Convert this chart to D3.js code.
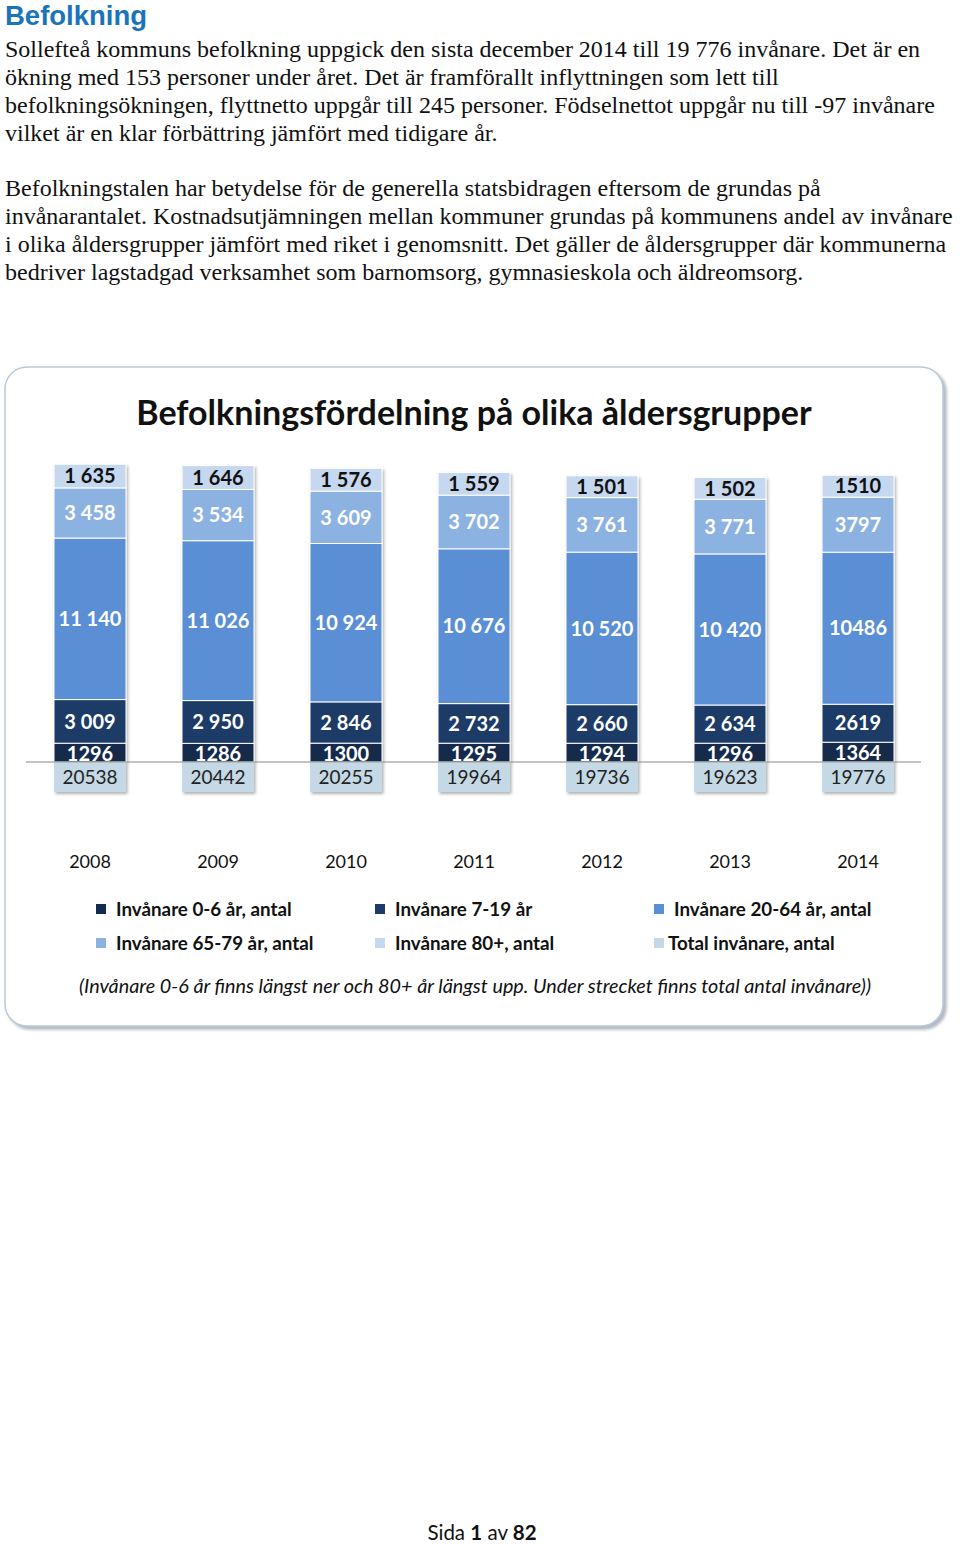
<!DOCTYPE html>
<html>
<head>
<meta charset="utf-8">
<script src="https://cdn.jsdelivr.net/npm/d3@7"></script>
<style>
  html, body { margin: 0; padding: 0; background: #ffffff; }
  svg { display: block; }
</style>
</head>
<body>
<script>
// ---------- DATA ----------
const years = ["2008", "2009", "2010", "2011", "2012", "2013", "2014"];
const age0_6   = [1296, 1286, 1300, 1295, 1294, 1296, 1364];
const age7_19  = [3009, 2950, 2846, 2732, 2660, 2634, 2619];
const age20_64 = [11140, 11026, 10924, 10676, 10520, 10420, 10486];
const age65_79 = [3458, 3534, 3609, 3702, 3761, 3771, 3797];
const age80    = [1635, 1646, 1576, 1559, 1501, 1502, 1510];
const totals   = [20538, 20442, 20255, 19964, 19736, 19623, 19776];
// whether the label for a year uses a space as thousands separator
const spacedYears = [true, true, true, true, true, true, false];

const seriesNames = [
  "Invånare 0-6 år, antal",
  "Invånare 7-19 år",
  "Invånare 20-64 år, antal",
  "Invånare 65-79 år, antal",
  "Invånare 80+, antal",
  "Total invånare, antal"
];

const headingText = "Befolkning";
const para1 = [
  "Sollefteå kommuns befolkning uppgick den sista december 2014 till 19 776 invånare. Det är en",
  "ökning med 153 personer under året. Det är framförallt inflyttningen som lett till",
  "befolkningsökningen, flyttnetto uppgår till 245 personer. Födselnettot uppgår nu till -97 invånare",
  "vilket är en klar förbättring jämfört med tidigare år."
];
const para2 = [
  "Befolkningstalen har betydelse för de generella statsbidragen eftersom de grundas på",
  "invånarantalet. Kostnadsutjämningen mellan kommuner grundas på kommunens andel av invånare",
  "i olika åldersgrupper jämfört med riket i genomsnitt. Det gäller de åldersgrupper där kommunerna",
  "bedriver lagstadgad verksamhet som barnomsorg, gymnasieskola och äldreomsorg."
];
const chartTitle = "Befolkningsfördelning på olika åldersgrupper";
const footnote = "(Invånare 0-6 år finns längst ner och 80+ år längst upp. Under strecket finns total antal invånare))";

// ---------- STYLE ----------
const colors = ["#132b4c", "#1c3b66", "#5a8fd5", "#8cb2e2", "#c6d8f0", "#c4d9e5"];
const labelColors = ["#ffffff", "#ffffff", "#ffffff", "#ffffff", "#111111", "#222222"];
const sansFont = "Lato, 'Open Sans', sans-serif";

const W = 960, H = 1544;
const svg = d3.select("body").append("svg").attr("width", W).attr("height", H);

const defs = svg.append("defs");
const f1 = defs.append("filter").attr("id", "boxShadow").attr("x", "-5%").attr("y", "-5%").attr("width", "110%").attr("height", "110%");
f1.append("feDropShadow").attr("dx", 3).attr("dy", 3).attr("stdDeviation", 1.5).attr("flood-color", "#7f8a96").attr("flood-opacity", 0.6);
const f2 = defs.append("filter").attr("id", "barShadow").attr("x", "-20%").attr("y", "-5%").attr("width", "140%").attr("height", "110%");
f2.append("feDropShadow").attr("dx", 1.5).attr("dy", 2).attr("stdDeviation", 1.5).attr("flood-color", "#555").attr("flood-opacity", 0.45);

// ---------- PAGE TEXT ----------
svg.append("text").attr("x", 5).attr("y", 25)
  .attr("font-family", "'Liberation Sans', Arial, sans-serif").attr("font-weight", "bold")
  .attr("font-size", 27.5).attr("fill", "#1b74ba").text(headingText);

const bodyFont = "'Liberation Serif', 'Times New Roman', serif";
para1.forEach((t, i) => {
  svg.append("text").attr("x", 5).attr("y", 57 + i * 28)
    .attr("font-family", bodyFont).attr("font-size", 24).attr("fill", "#111").text(t);
});
para2.forEach((t, i) => {
  svg.append("text").attr("x", 5).attr("y", 196 + i * 28)
    .attr("font-family", bodyFont).attr("font-size", 24).attr("fill", "#111").text(t);
});

// ---------- CHART BOX ----------
svg.append("rect").attr("x", 5).attr("y", 367).attr("width", 938).attr("height", 659)
  .attr("rx", 22).attr("ry", 22)
  .attr("fill", "#ffffff").attr("stroke", "#b9c9d9").attr("stroke-width", 1.5)
  .attr("filter", "url(#boxShadow)");

svg.append("text").attr("x", 474).attr("y", 425).attr("text-anchor", "middle")
  .attr("font-family", sansFont).attr("font-weight", "bold").attr("font-size", 34)
  .attr("fill", "#111").text(chartTitle);

// ---------- SCALES ----------
const baseY = 762;
const x = d3.scaleBand().domain(years).range([26, 922]).paddingInner(0.4375).paddingOuter(0.21875);
const y = d3.scaleLinear().domain([0, 22000]).range([baseY, baseY - 319]);

const seriesData = [age0_6, age7_19, age20_64, age65_79, age80];
const table = years.map((yr, i) => {
  const o = { year: yr };
  seriesData.forEach((arr, k) => { o["s" + k] = arr[i]; });
  return o;
});
const keys = seriesData.map((_, k) => "s" + k);
const stacked = d3.stack().keys(keys)(table);

const fmtSpaced = d3.formatLocale({ decimal: ",", thousands: " ", grouping: [3], currency: ["", " kr"] }).format(",d");
const fmtPlain = d3.format("d");

// bars
const gBars = svg.append("g");
years.forEach((yr, i) => {
  const g = gBars.append("g").attr("filter", "url(#barShadow)");
  // total box below the baseline
  g.append("rect").attr("x", x(yr)).attr("y", baseY).attr("width", x.bandwidth()).attr("height", 30)
    .attr("fill", colors[5]);
  stacked.forEach((layer, k) => {
    const d = layer[i];
    g.append("rect").attr("x", x(yr)).attr("y", y(d[1])).attr("width", x.bandwidth())
      .attr("height", y(d[0]) - y(d[1]))
      .attr("fill", colors[k]).attr("stroke", "#ffffff").attr("stroke-width", 1);
  });
});

// labels
years.forEach((yr, i) => {
  const cx = x(yr) + x.bandwidth() / 2;
  stacked.forEach((layer, k) => {
    const d = layer[i];
    const v = d[1] - d[0];
    const useSpace = spacedYears[i] && k !== 0;
    svg.append("text").attr("x", cx).attr("y", (y(d[0]) + y(d[1])) / 2 + (k === 0 ? 1 : 0))
      .attr("dy", "0.36em").attr("text-anchor", "middle")
      .attr("font-family", sansFont).attr("font-weight", "bold").attr("font-size", 20)
      .attr("fill", labelColors[k]).text(useSpace ? fmtSpaced(v) : fmtPlain(v));
  });
  svg.append("text").attr("x", cx).attr("y", baseY + 15)
    .attr("dy", "0.36em").attr("text-anchor", "middle")
    .attr("font-family", sansFont).attr("font-size", 19)
    .attr("fill", labelColors[5]).text(fmtPlain(totals[i]));
});

// baseline
svg.append("line").attr("x1", 26).attr("x2", 921).attr("y1", baseY).attr("y2", baseY)
  .attr("stroke", "#8a8a8a").attr("stroke-width", 1.2);

// year axis
const xAxis = d3.axisBottom(x).tickSize(0).tickPadding(0);
const gx = svg.append("g").attr("transform", "translate(0,855)").call(xAxis);
gx.select(".domain").remove();
gx.selectAll("text").attr("font-family", sansFont).attr("font-size", 18).attr("fill", "#111");

// legend
const legCols = [96, 375, 654];
const legRows = [909, 943];
seriesNames.forEach((name, k) => {
  const cx = legCols[k % 3], cy = legRows[Math.floor(k / 3)];
  svg.append("rect").attr("x", cx).attr("y", cy - 5).attr("width", 10).attr("height", 10).attr("fill", colors[k]);
  svg.append("text").attr("x", cx + (k === 5 ? 14 : 20)).attr("y", cy).attr("dy", "0.36em")
    .attr("font-family", sansFont).attr("font-weight", "bold").attr("font-size", 18.8)
    .attr("fill", "#111").text(name);
});

// footnote
svg.append("text").attr("x", 475).attr("y", 986).attr("dy", "0.36em").attr("text-anchor", "middle")
  .attr("font-family", sansFont).attr("font-style", "italic").attr("font-size", 19.8)
  .attr("fill", "#111").text(footnote);

// page footer
const foot = svg.append("text").attr("x", 482).attr("y", 1540).attr("text-anchor", "middle")
  .attr("font-family", sansFont).attr("font-size", 20.5).attr("fill", "#111");
foot.append("tspan").text("Sida ");
foot.append("tspan").attr("font-weight", "bold").text("1");
foot.append("tspan").text(" av  ");
foot.append("tspan").attr("font-weight", "bold").text("82");
</script>
</body>
</html>
